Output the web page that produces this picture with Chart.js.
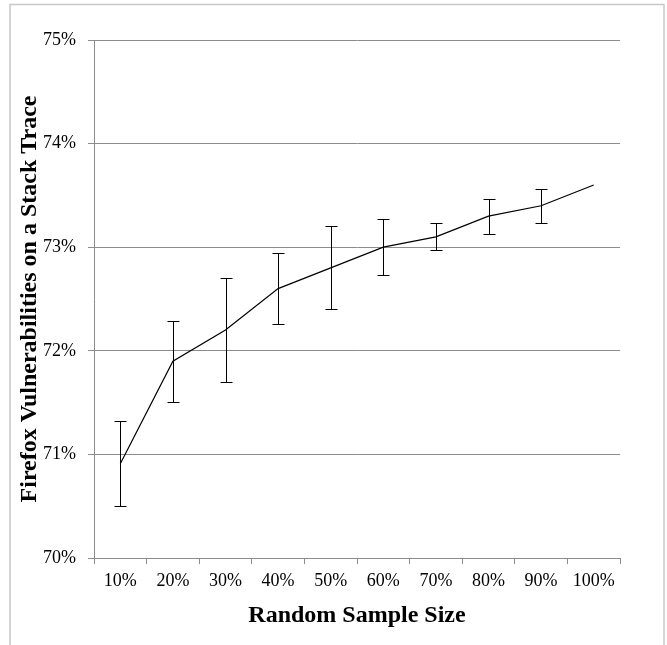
<!DOCTYPE html>
<html>
<head>
<meta charset="utf-8">
<script src="https://cdn.jsdelivr.net/npm/chart.js@4"></script>
<style>
html,body{margin:0;padding:0;background:#fff;}
#wrap{position:relative;width:667px;height:645px;}
</style>
</head>
<body>
<div id="wrap"><canvas id="c" width="667" height="645"></canvas></div>
<script>
const categories = ['10%','20%','30%','40%','50%','60%','70%','80%','90%','100%'];
const values = [70.91, 71.90, 72.20, 72.60, 72.80, 73.00, 73.10, 73.30, 73.40, 73.60];
const errors = [0.41, 0.39, 0.50, 0.34, 0.40, 0.27, 0.13, 0.17, 0.165, null];
const yTicks = [70, 71, 72, 73, 74, 75];

const GRAY = '#8c8c8c';
const FONT = "'Liberation Serif', 'Times New Roman', serif";

const frame = {
  id: 'frame',
  beforeDraw(chart) {
    const ctx = chart.ctx;
    ctx.save();
    ctx.fillStyle = '#fff';
    ctx.fillRect(0, 0, chart.width, chart.height);
    ctx.strokeStyle = '#c8c8c8';
    ctx.lineWidth = 1.5;
    ctx.strokeRect(10, 4.5, 654, 660);
    ctx.restore();
  }
};

const errorBars = {
  id: 'errorBars',
  afterDatasetsDraw(chart) {
    const ctx = chart.ctx;
    const meta = chart.getDatasetMeta(0);
    const ys = chart.scales.y;
    ctx.save();
    ctx.strokeStyle = '#000';
    ctx.lineWidth = 1;
    meta.data.forEach((pt, i) => {
      const e = errors[i];
      if (e == null) return;
      const x = Math.round(pt.x) + 0.5;
      const yt = Math.round(ys.getPixelForValue(values[i] + e)) + 0.5;
      const yb = Math.round(ys.getPixelForValue(values[i] - e)) + 0.5;
      ctx.beginPath();
      ctx.moveTo(x, yt); ctx.lineTo(x, yb);
      ctx.moveTo(x - 6, yt); ctx.lineTo(x + 6, yt);
      ctx.moveTo(x - 6, yb); ctx.lineTo(x + 6, yb);
      ctx.stroke();
    });
    ctx.restore();
  }
};

new Chart(document.getElementById('c'), {
  type: 'line',
  data: {
    labels: categories,
    datasets: [{
      data: values,
      borderColor: '#000',
      borderWidth: 1.2,
      pointRadius: 0,
      tension: 0,
      fill: false
    }]
  },
  options: {
    responsive: false,
    animation: false,
    devicePixelRatio: 1,
    layout: { padding: { left: 0, top: 40, right: 47, bottom: 0 } },
    plugins: { legend: { display: false }, tooltip: { enabled: false } },
    scales: {
      x: {
        type: 'category',
        offset: true,
        grid: { offset: true, drawOnChartArea: false, drawTicks: true, tickLength: 6, color: GRAY },
        border: { display: true, color: GRAY, width: 1 },
        ticks: { color: '#000', font: { family: FONT, size: 18 }, padding: 6, maxRotation: 0 },
        title: { display: true, text: 'Random Sample Size', color: '#000', font: { family: FONT, size: 24, weight: 'bold' }, padding: { top: 0, bottom: 15 } },
        afterFit(s) { s.height = 87; }
      },
      y: {
        min: 70, max: 75,
        afterBuildTicks(s) { s.ticks = yTicks.map(v => ({ value: v })); },
        grid: { color: GRAY, tickLength: 6, drawTicks: true },
        border: { display: true, color: GRAY, width: 1 },
        ticks: { color: '#000', font: { family: FONT, size: 18 }, padding: 12, callback: v => v + '%' },
        title: { display: true, text: 'Firefox Vulnerabilities on a Stack Trace', color: '#000', font: { family: FONT, size: 24, weight: 'bold' }, padding: { top: 15, bottom: 0 } },
        afterFit(s) { s.width = 94; }
      }
    }
  },
  plugins: [frame, errorBars]
});
</script>
</body>
</html>
